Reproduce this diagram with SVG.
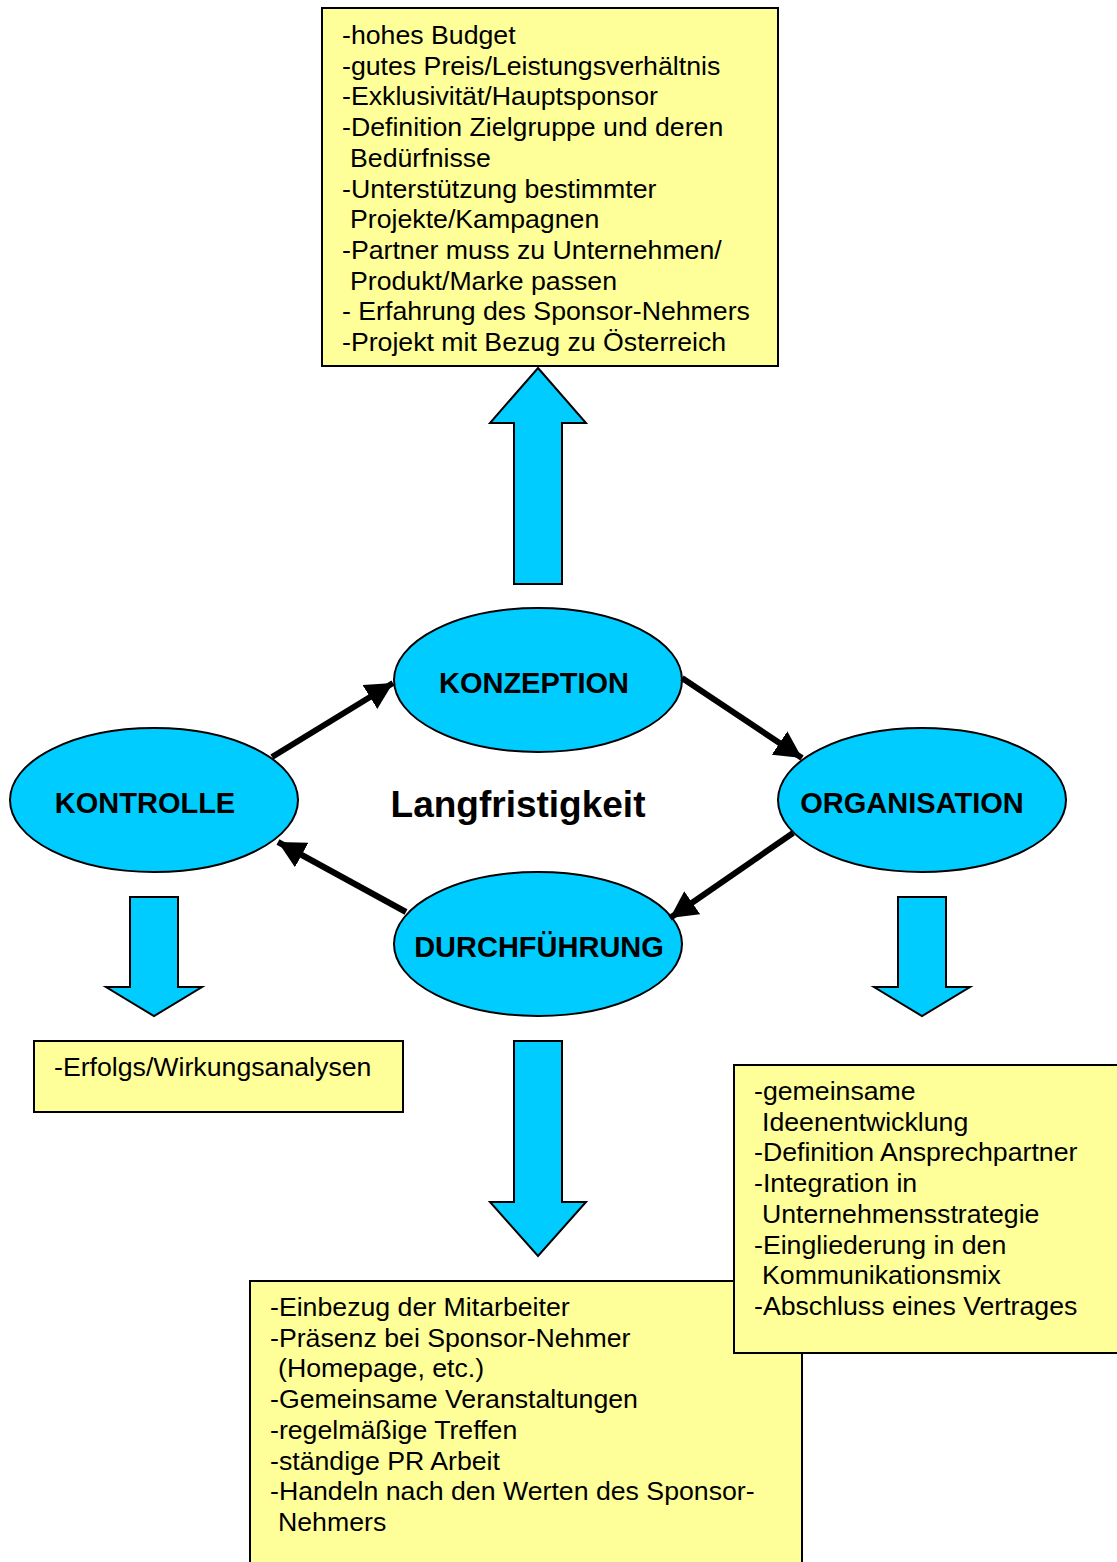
<svg xmlns="http://www.w3.org/2000/svg" width="1117" height="1562" viewBox="0 0 1117 1562">
<style>
.box{fill:#FFFF99;stroke:#000;stroke-width:2}
.blk{fill:#00CCFF;stroke:#000;stroke-width:2;stroke-linejoin:miter}
.ell{fill:#00CCFF;stroke:#000;stroke-width:2}
.t{font-family:"Liberation Sans",Arial,sans-serif;font-size:26.7px;fill:#000}
.lbl{font-family:"Liberation Sans",Arial,sans-serif;font-size:29px;font-weight:bold;fill:#000;text-anchor:middle}
.big{font-family:"Liberation Sans",Arial,sans-serif;font-size:37px;font-weight:bold;fill:#000;text-anchor:middle}
.con{stroke:#000;stroke-width:6;fill:none}
</style>
<defs>
<marker id="ah" markerUnits="userSpaceOnUse" markerWidth="30" markerHeight="28" refX="27" refY="14" orient="auto">
<path d="M0,0 L27,14 L0,28 Z" fill="#000"/>
</marker>
</defs>
<rect width="1117" height="1562" fill="#fff"/>

<g id="box-konzeption">
<rect class="box" x="322" y="8" width="456" height="358"/>
<text class="t" x="342" y="44">-hohes Budget</text>
<text class="t" x="342" y="74.7">-gutes Preis/Leistungsverhältnis</text>
<text class="t" x="342" y="105.4">-Exklusivität/Hauptsponsor</text>
<text class="t" x="342" y="136.1">-Definition Zielgruppe und deren</text>
<text class="t" x="350" y="166.8">Bedürfnisse</text>
<text class="t" x="342" y="197.5">-Unterstützung bestimmter</text>
<text class="t" x="350" y="228.2">Projekte/Kampagnen</text>
<text class="t" x="342" y="258.9">-Partner muss zu Unternehmen/</text>
<text class="t" x="350" y="289.6">Produkt/Marke passen</text>
<text class="t" x="342" y="320.3">- Erfahrung des Sponsor-Nehmers</text>
<text class="t" x="342" y="351">-Projekt mit Bezug zu Österreich</text>
</g>

<g id="arrow-up">
<polygon class="blk" points="538,368 586,423 562,423 562,584 514,584 514,423 490,423"/>
</g>

<g id="node-konzeption">
<ellipse class="ell" cx="538" cy="680" rx="144" ry="72"/>
<text class="lbl" x="534" y="693">KONZEPTION</text>
</g>
<g id="node-kontrolle">
<ellipse class="ell" cx="154" cy="800" rx="144" ry="72"/>
<text class="lbl" x="145" y="813">KONTROLLE</text>
</g>
<g id="node-organisation">
<ellipse class="ell" cx="922" cy="800" rx="144" ry="72"/>
<text class="lbl" x="912" y="813">ORGANISATION</text>
</g>
<g id="node-durchfuehrung">
<ellipse class="ell" cx="538" cy="944" rx="144" ry="72"/>
<text class="lbl" x="539" y="957">DURCHFÜHRUNG</text>
</g>

<g id="center-label">
<text class="big" x="518" y="817">Langfristigkeit</text>
</g>

<g id="connectors">
<line class="con" x1="272" y1="757" x2="393" y2="683" marker-end="url(#ah)"/>
<line class="con" x1="682" y1="678" x2="802" y2="758" marker-end="url(#ah)"/>
<line class="con" x1="793" y1="833" x2="670" y2="918" marker-end="url(#ah)"/>
<line class="con" x1="406" y1="912" x2="278" y2="842" marker-end="url(#ah)"/>
</g>

<g id="arrow-down-left">
<polygon class="blk" points="130,897 178,897 178,987 202,987 154,1016 106,987 130,987"/>
</g>
<g id="arrow-down-right">
<polygon class="blk" points="898,897 946,897 946,987 970,987 922,1016 874,987 898,987"/>
</g>
<g id="arrow-down-middle">
<polygon class="blk" points="514,1041 562,1041 562,1202 586,1202 538,1256 490,1202 514,1202"/>
</g>

<g id="box-kontrolle">
<rect class="box" x="34" y="1041" width="369" height="71"/>
<text class="t" x="54" y="1076">-Erfolgs/Wirkungsanalysen</text>
</g>

<g id="box-durchfuehrung">
<rect class="box" x="250" y="1281" width="552" height="290"/>
<text class="t" x="270" y="1316">-Einbezug der Mitarbeiter</text>
<text class="t" x="270" y="1346.7">-Präsenz bei Sponsor-Nehmer</text>
<text class="t" x="278" y="1377.4">(Homepage, etc.)</text>
<text class="t" x="270" y="1408.1">-Gemeinsame Veranstaltungen</text>
<text class="t" x="270" y="1438.8">-regelmäßige Treffen</text>
<text class="t" x="270" y="1469.5">-ständige PR Arbeit</text>
<text class="t" x="270" y="1500.2">-Handeln nach den Werten des Sponsor-</text>
<text class="t" x="278" y="1530.9">Nehmers</text>
</g>

<g id="box-organisation">
<rect class="box" x="734" y="1065" width="388" height="288"/>
<text class="t" x="754" y="1100">-gemeinsame</text>
<text class="t" x="762" y="1130.7">Ideenentwicklung</text>
<text class="t" x="754" y="1161.4">-Definition Ansprechpartner</text>
<text class="t" x="754" y="1192.1">-Integration in</text>
<text class="t" x="762" y="1222.8">Unternehmensstrategie</text>
<text class="t" x="754" y="1253.5">-Eingliederung in den</text>
<text class="t" x="762" y="1284.2">Kommunikationsmix</text>
<text class="t" x="754" y="1315">-Abschluss eines Vertrages</text>
</g>
</svg>
